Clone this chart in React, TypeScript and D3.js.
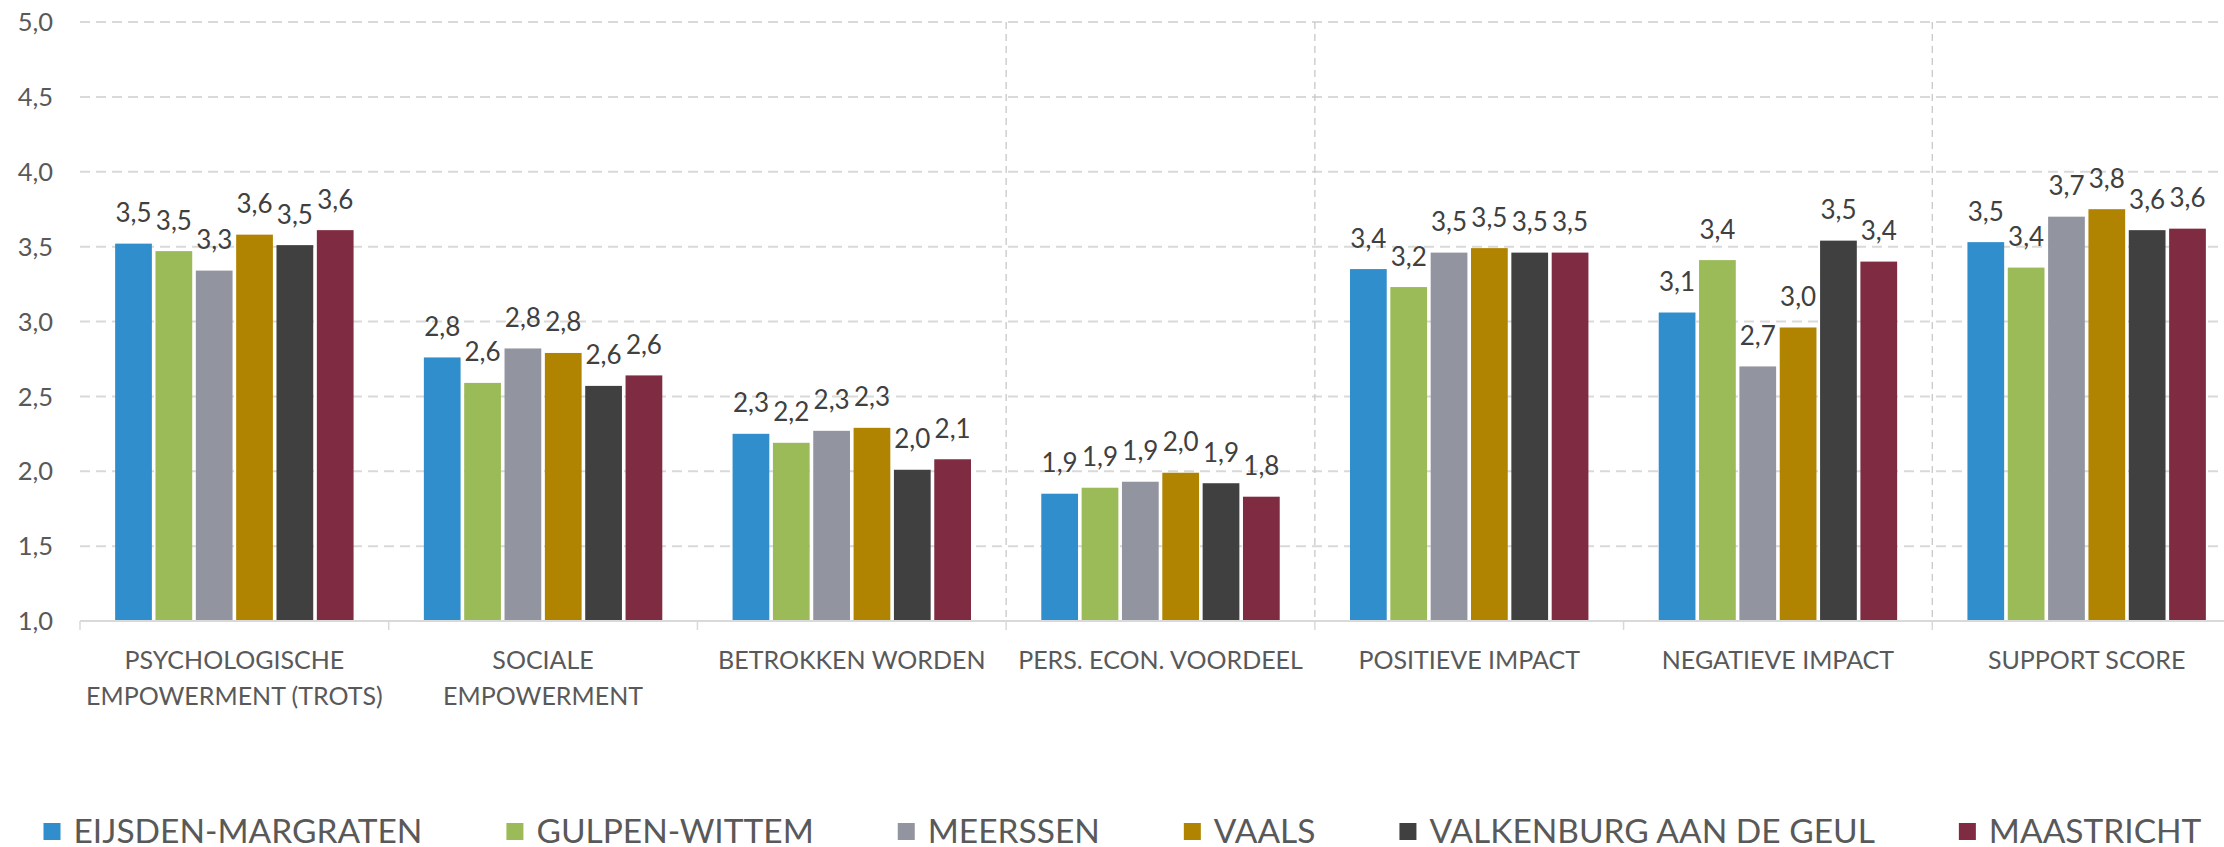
import React, { useEffect, useRef } from 'react';
import * as d3 from 'd3';

// categories (x axis), "\n" marks a line break in the label
const categories = [
  'PSYCHOLOGISCHE\nEMPOWERMENT (TROTS)',
  'SOCIALE\nEMPOWERMENT',
  'BETROKKEN WORDEN',
  'PERS. ECON. VOORDEEL',
  'POSITIEVE IMPACT',
  'NEGATIEVE IMPACT',
  'SUPPORT SCORE',
];

// categories that get a dashed vertical line on their left side
const dividers = ['PERS. ECON. VOORDEEL', 'POSITIEVE IMPACT', 'SUPPORT SCORE'];

const municipalities = [
  'EIJSDEN-MARGRATEN',
  'GULPEN-WITTEM',
  'MEERSSEN',
  'VAALS',
  'VALKENBURG AAN DE GEUL',
  'MAASTRICHT',
];

const colors = ['#318ecc', '#9bbb59', '#9295a0', '#b08400', '#404040', '#7f2b42'];

// one value per category, same order as `categories`
const eijsdenMargraten = [3.52, 2.76, 2.25, 1.85, 3.35, 3.06, 3.53];
const gulpenWittem = [3.47, 2.59, 2.19, 1.89, 3.23, 3.41, 3.36];
const meerssen = [3.34, 2.82, 2.27, 1.93, 3.46, 2.7, 3.7];
const vaals = [3.58, 2.79, 2.29, 1.99, 3.49, 2.96, 3.75];
const valkenburg = [3.51, 2.57, 2.01, 1.92, 3.46, 3.54, 3.61];
const maastricht = [3.61, 2.64, 2.08, 1.83, 3.46, 3.4, 3.62];

const series = [eijsdenMargraten, gulpenWittem, meerssen, vaals, valkenburg, maastricht];

const yTicks = [1, 1.5, 2, 2.5, 3, 3.5, 4, 4.5, 5];

const width = 2224,
      height = 847,
      left = 80,
      right = 2241,
      top = 22,
      bottom = 621;

const font = 'Lato, "Open Sans", sans-serif';

const fmt = d3.formatLocale({ decimal: ',', thousands: '.', grouping: [3], currency: ['€', ''] }).format('.1f');

export default function App() {
  const legendRef = useRef<SVGGElement>(null);

  const x = d3.scaleBand().domain(categories).range([left, right]);
  const bw = x.bandwidth();
  const xi = d3.scaleBand().domain(municipalities).range([bw * 0.108, bw * 0.892]);
  const y = d3.scaleLinear().domain([1, 5]).range([bottom, top]);

  // legend: items laid out one after the other, spacing from text widths
  useEffect(() => {
    const g = d3.select(legendRef.current);
    g.selectAll('*').remove();
    let cx = 43.5;
    municipalities.forEach((m, i) => {
      g.append('rect')
        .attr('x', cx).attr('y', 823)
        .attr('width', 17).attr('height', 17)
        .attr('fill', colors[i]);
      const t = g.append('text')
        .attr('x', cx + 30).attr('y', 843)
        .attr('font-size', 33.5)
        .attr('fill', '#595959')
        .text(m);
      cx += 30 + (t.node() as SVGTextElement).getComputedTextLength() + 84;
    });
  }, []);

  return (
    <svg width={width} height={height} style={{ position: 'absolute', left: 0, top: 0, background: '#fff' }}
         fontFamily={font}>
      {/* horizontal grid */}
      {yTicks.filter(t => t > 1).map(t =>
        <line key={t} x1={left} x2={right} y1={y(t)} y2={y(t)}
              stroke="#d9d9d9" strokeWidth={2} strokeDasharray="10,6" />
      )}
      {/* vertical dashed dividers */}
      {dividers.map(c =>
        <line key={c} x1={x(c)} x2={x(c)} y1={top} y2={bottom}
              stroke="#c8c8c8" strokeWidth={1.3} strokeDasharray="7,5" />
      )}

      {/* y tick labels */}
      {yTicks.map(t =>
        <text key={t} x={53} y={y(t)} dy="0.36em" textAnchor="end"
              fontSize={25.5} fill="#595959">{fmt(t)}</text>
      )}

      {/* bars + value labels */}
      {categories.map((c, ci) =>
        <g key={c} transform={`translate(${x(c)},0)`}>
          {municipalities.map((m, si) => {
            const v = series[si][ci];
            const bx = xi(m) as number;
            return (
              <g key={m}>
                <rect x={bx + 1.8} y={y(v)} width={xi.bandwidth() - 3.6} height={bottom - y(v)}
                      fill={colors[si]} />
                <text x={bx + xi.bandwidth() / 2} y={y(v) - 21.5} textAnchor="middle"
                      fontSize={26} fill="#404040">{fmt(v)}</text>
              </g>
            );
          })}
        </g>
      )}

      {/* x axis */}
      <line x1={left} x2={right} y1={bottom} y2={bottom} stroke="#d9d9d9" strokeWidth={2} />
      {categories.concat(['']).map((c, i) => {
        const bx = left + i * bw;
        return <line key={i} x1={bx} x2={bx} y1={bottom} y2={bottom + 9} stroke="#d9d9d9" strokeWidth={1.5} />;
      })}
      {categories.map(c =>
        <text key={c} x={(x(c) as number) + bw / 2} y={669} textAnchor="middle" fontSize={25} fill="#595959">
          {c.split('\n').map((line, li) =>
            <tspan key={li} x={(x(c) as number) + bw / 2} dy={li === 0 ? 0 : 36}>{line}</tspan>
          )}
        </text>
      )}

      <g ref={legendRef} fontFamily={font} />
    </svg>
  );
}
